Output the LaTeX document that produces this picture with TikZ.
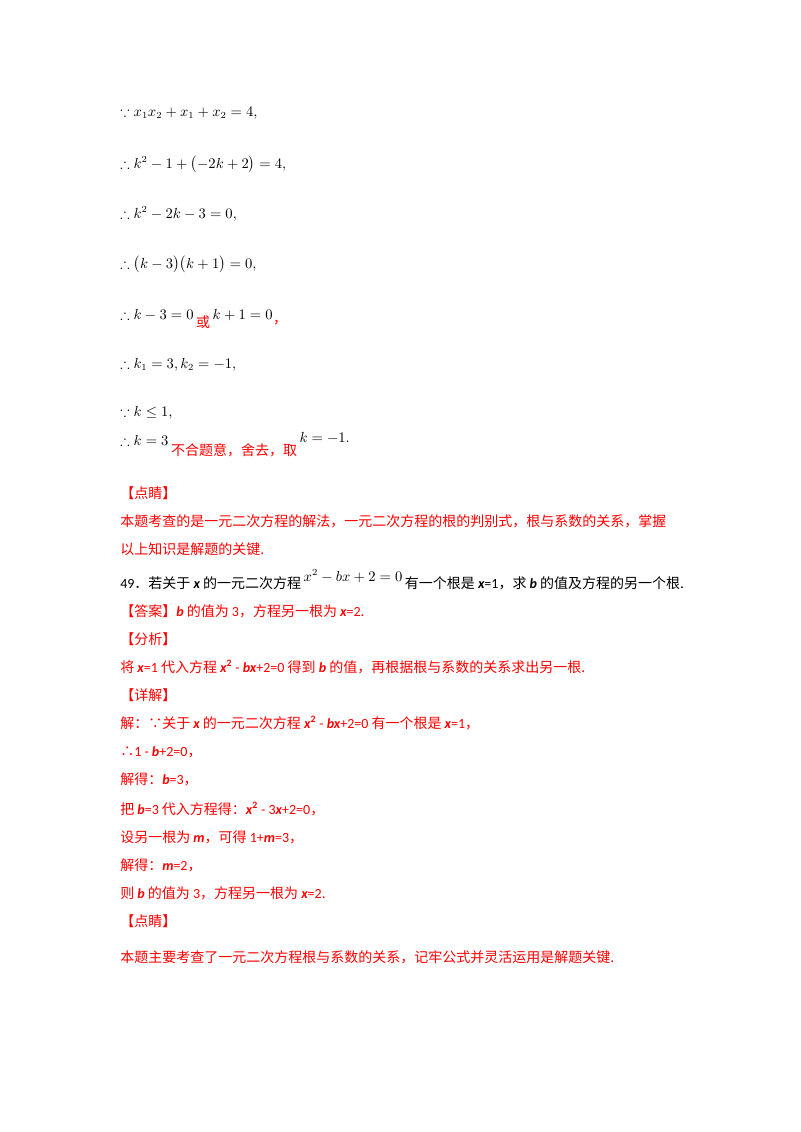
\documentclass[tikz,border=0pt]{standalone}
\usepackage{amsmath,amssymb}
\usepackage{fontspec}
\setmainfont{Noto Sans CJK SC}
\newfontfamily\lat{Carlito}
\definecolor{rd}{RGB}{255,0,0}
\newcommand{\V}[1]{{\lat\bfseries\itshape #1}}
\newcommand{\N}[1]{{\lat #1}}
\begin{document}
\begin{tikzpicture}[x=0.75pt,y=-0.75pt,
  t/.style={anchor=base west,inner sep=0pt,font=\fontsize{10.5}{13}\selectfont},
  r/.style={t,text=rd}]
\useasboundingbox[fill=white] (0,0) rectangle (800,1132);
\node[t] (l1) at (120,116) {$\because x_1x_2+x_1+x_2=4,$};
\node[t] (l2) at (120,168) {$\therefore k^2-1+\bigl(-2k+2\bigr)=4,$};
\node[t] (l3) at (120,218) {$\therefore k^2-2k-3=0,$};
\node[t] (l4) at (120,268) {$\therefore \bigl(k-3\bigr)\bigl(k+1\bigr)=0,$};
\node[t] (l5) at (120,319) {$\therefore k-3=0$};
\node[r] (l5b) at ([shift={(2,8)}]l5.base east) {或};
\node[t] (l5c) at ([shift={(2,-8)}]l5b.base east) {$k+1=0$};
\node[r] (l5d) at ([shift={(0,4)}]l5c.base east) {，};
\node[t] (l6) at (120,368) {$\therefore k_1=3,k_2=-1,$};
\node[t] (l7) at (120,416) {$\because k\le 1,$};
\node[t] (l8) at (120,445) {$\therefore k=3$};
\node[r] (l8b) at ([shift={(2,10)}]l8.base east) {不合题意，舍去，取};
\node[t] (l8c) at ([shift={(2,-13)}]l8b.base east) {$k=-1.$};
\node[r] (d1) at (120,498) {【点睛】};
\node[r] (d2) at (120,526) {本题考查的是一元二次方程的解法，一元二次方程的根的判别式，根与系数的关系，掌握};
\node[r] (d3) at (120,554) {以上知识是解题的关键.};
\node[t] (q) at (120,588) {\N{49}．若关于 \V{x} 的一元二次方程};
\node[t] (qm) at ([shift={(2,-7)}]q.base east) {$x^2-bx+2=0$};
\node[t] (qc) at ([shift={(2,7)}]qm.base east) {有一个根是 \V{x}\N{=1}，求 \V{b} 的值及方程的另一个根.};
\node[r] (a1) at (120,616) {【答案】\V{b} 的值为 \N{3}，方程另一根为 \V{x}\N{=2}.};
\node[r] (a2) at (120,644) {【分析】};
\node[r] (a3) at (120,672) {将 \V{x}\N{=1} 代入方程 \V{x}\textsuperscript{\lat\bfseries 2} \N{- }\V{bx}\N{+2=0} 得到 \V{b} 的值，再根据根与系数的关系求出另一根.};
\node[r] (a4) at (120,700) {【详解】};
\node[r] (a5) at (120,728) {解：∵关于 \V{x} 的一元二次方程 \V{x}\textsuperscript{\lat\bfseries 2} \N{- }\V{bx}\N{+2=0} 有一个根是 \V{x}\N{=1}，};
\node[r] (a6) at (120,756) {∴\N{1 - }\V{b}\N{+2=0}，};
\node[r] (a7) at (120,784) {解得：\V{b}\N{=3}，};
\node[r] (a8) at (120,814) {把 \V{b}\N{=3} 代入方程得：\V{x}\textsuperscript{\lat\bfseries 2} \N{- 3}\V{x}\N{+2=0}，};
\node[r] (a9) at (120,842) {设另一根为 \V{m}，可得 \N{1+}\V{m}\N{=3}，};
\node[r] (a10) at (120,870) {解得：\V{m}\N{=2}，};
\node[r] (a11) at (120,898) {则 \V{b} 的值为 \N{3}，方程另一根为 \V{x}\N{=2}.};
\node[r] (a12) at (120,926) {【点睛】};
\node[r] (a13) at (120,962) {本题主要考查了一元二次方程根与系数的关系，记牢公式并灵活运用是解题关键.};
\end{tikzpicture}
\end{document}
